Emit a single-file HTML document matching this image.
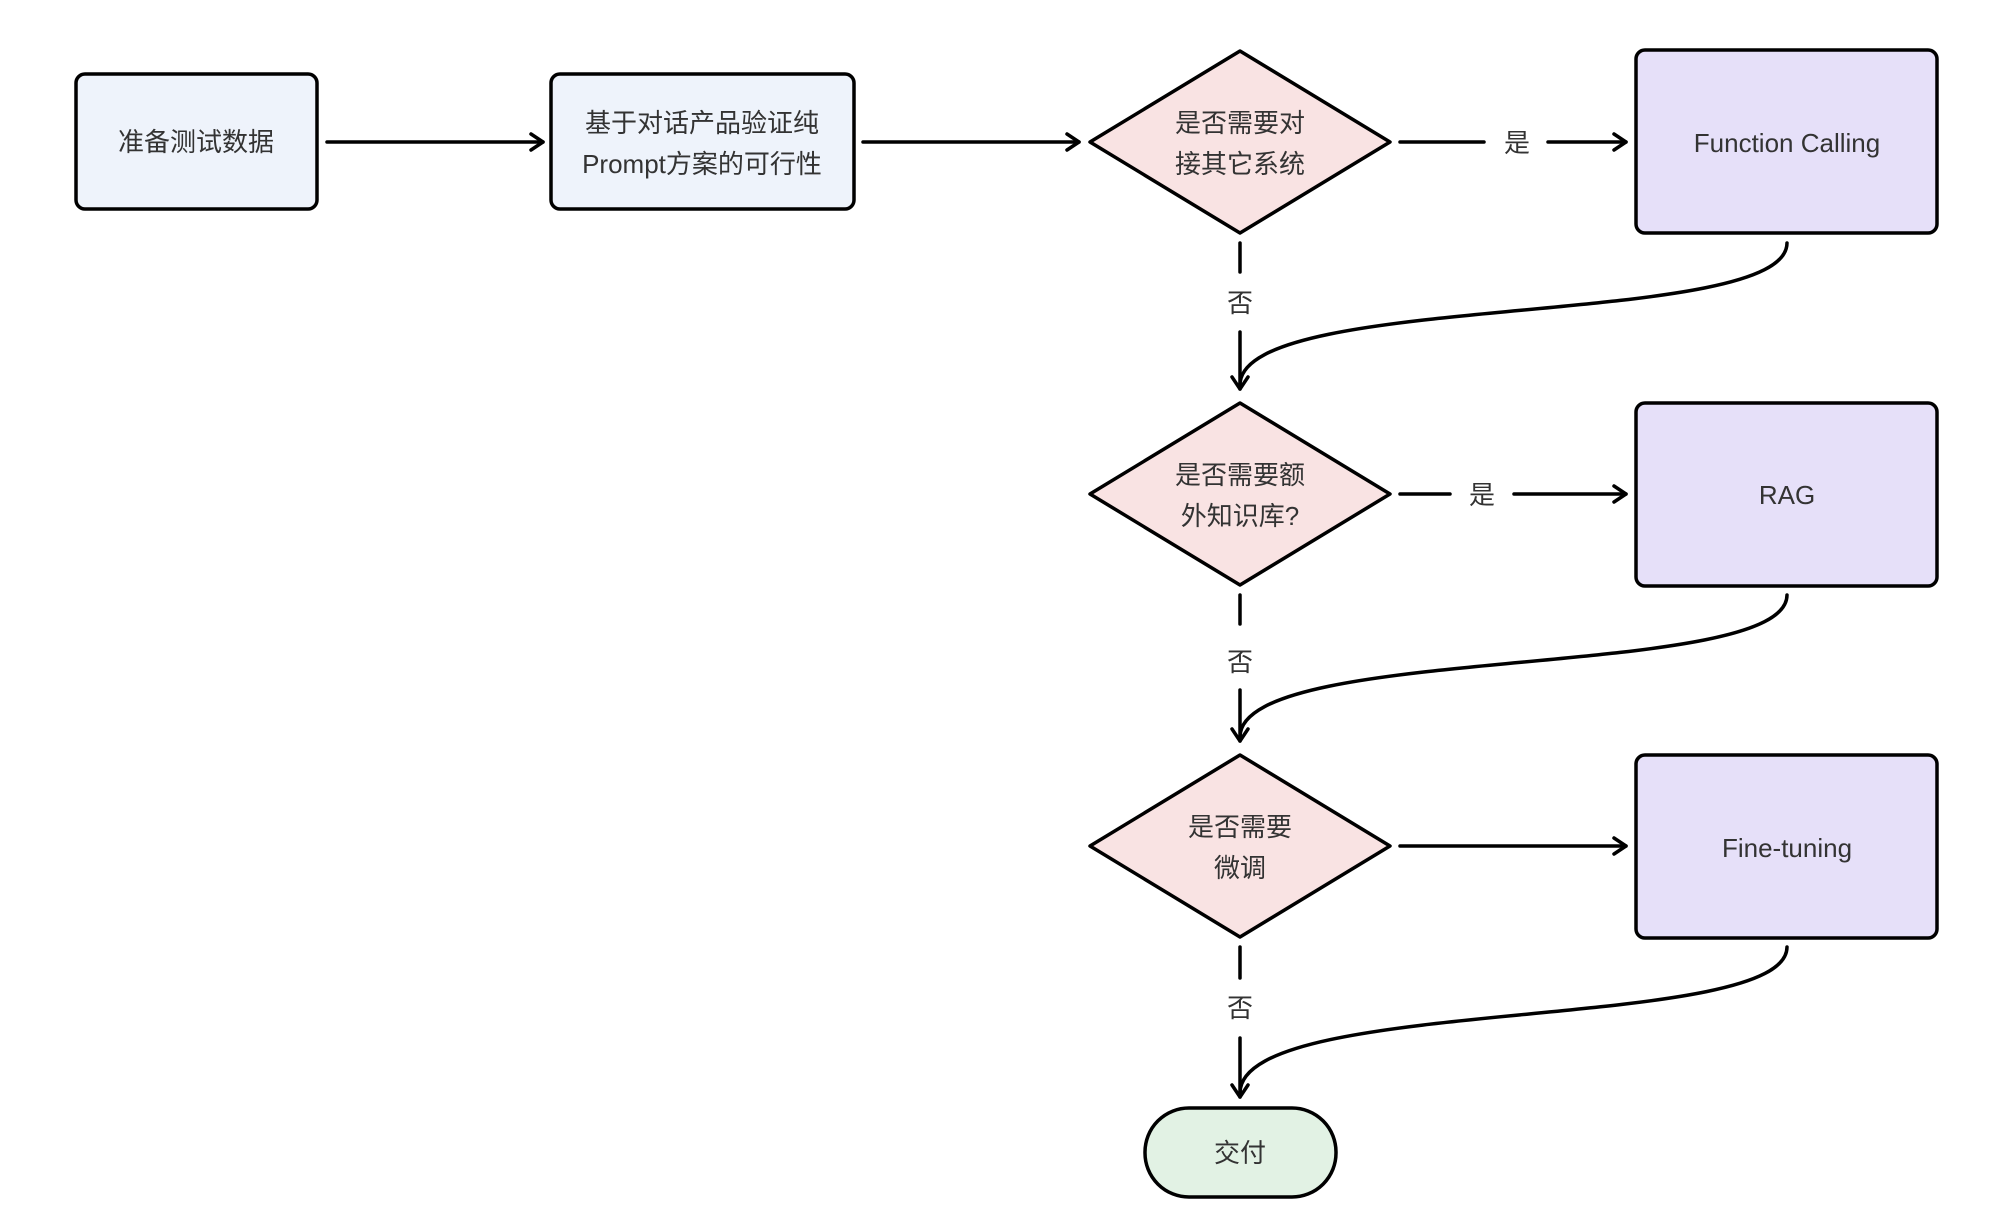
<!DOCTYPE html>
<html><head><meta charset="utf-8"><style>
html,body{margin:0;padding:0;background:#fff;}
svg text{font-family:"Liberation Sans","Noto Sans CJK SC",sans-serif;fill:#333;font-size:26px;text-anchor:middle;dominant-baseline:central;}
</style></head><body>
<svg width="2000" height="1212" viewBox="0 0 2000 1212" xmlns="http://www.w3.org/2000/svg">
<defs>
<marker id="a" viewBox="0 0 20 20" refX="18" refY="10" markerWidth="20" markerHeight="20" markerUnits="userSpaceOnUse" orient="auto">
<path d="M6,2 L18,10 L6,18" fill="none" stroke="#000" stroke-width="3.5" stroke-linecap="round" stroke-linejoin="round"/>
</marker>
</defs>
<g stroke="#000" stroke-width="3.5" fill="none" stroke-linecap="round">
<!-- horizontal arrows -->
<line x1="327" y1="142" x2="543" y2="142" marker-end="url(#a)"/>
<line x1="863" y1="142" x2="1079" y2="142" marker-end="url(#a)"/>
<line x1="1400" y1="142" x2="1484" y2="142"/>
<line x1="1548" y1="142" x2="1626" y2="142" marker-end="url(#a)"/>
<line x1="1400" y1="494" x2="1450" y2="494"/>
<line x1="1514" y1="494" x2="1626" y2="494" marker-end="url(#a)"/>
<line x1="1400" y1="846" x2="1626" y2="846" marker-end="url(#a)"/>
<!-- vertical no lines -->
<line x1="1240" y1="243" x2="1240" y2="272"/>
<line x1="1240" y1="332" x2="1240" y2="389" marker-end="url(#a)"/>
<line x1="1240" y1="595" x2="1240" y2="624"/>
<line x1="1240" y1="690" x2="1240" y2="741" marker-end="url(#a)"/>
<line x1="1240" y1="947" x2="1240" y2="978"/>
<line x1="1240" y1="1038" x2="1240" y2="1097" marker-end="url(#a)"/>
<!-- curves -->
<path d="M1787,243 C1787,330 1240,290 1240,385"/>
<path d="M1787,595 C1787,682 1240,642 1240,737"/>
<path d="M1787,947 C1787,1034 1240,994 1240,1093"/>
</g>
<g stroke="#000" stroke-width="3.5">
<rect x="76" y="74" width="241" height="135" rx="9" fill="#eef3fb"/>
<rect x="551" y="74" width="303" height="135" rx="9" fill="#eef3fb"/>
<polygon points="1240,51 1390,142 1240,233 1090,142" fill="#f9e3e3" stroke-linejoin="round"/>
<polygon points="1240,403 1390,494 1240,585 1090,494" fill="#f9e3e3" stroke-linejoin="round"/>
<polygon points="1240,755 1390,846 1240,937 1090,846" fill="#f9e3e3" stroke-linejoin="round"/>
<rect x="1636" y="50" width="301" height="183" rx="9" fill="#e6e0f9"/>
<rect x="1636" y="403" width="301" height="183" rx="9" fill="#e6e0f9"/>
<rect x="1636" y="755" width="301" height="183" rx="9" fill="#e6e0f9"/>
<rect x="1145" y="1108" width="191" height="89" rx="44" fill="#e2f2e4"/>
</g>
<text x="196" y="142">准备测试数据</text>
<text x="702" y="123">基于对话产品验证纯</text>
<text x="702" y="164">Prompt方案的可行性</text>
<text x="1240" y="123">是否需要对</text>
<text x="1240" y="164">接其它系统</text>
<text x="1240" y="475">是否需要额</text>
<text x="1240" y="516">外知识库?</text>
<text x="1240" y="827">是否需要</text>
<text x="1240" y="868">微调</text>
<text x="1787" y="143" font-size="28">Function Calling</text>
<text x="1787" y="495" font-size="28">RAG</text>
<text x="1787" y="848" font-size="28">Fine-tuning</text>
<text x="1240" y="1153">交付</text>
<text x="1517" y="143">是</text>
<text x="1482" y="495">是</text>
<text x="1240" y="303">否</text>
<text x="1240" y="662">否</text>
<text x="1240" y="1008">否</text>
</svg>
</body></html>
